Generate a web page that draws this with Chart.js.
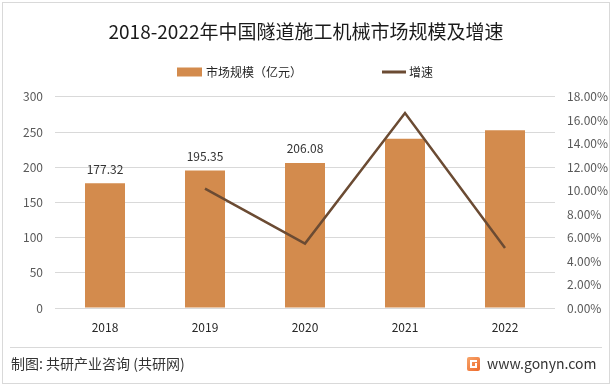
<!DOCTYPE html>
<html><head><meta charset="utf-8">
<script src="https://cdn.jsdelivr.net/npm/chart.js@4.4.0/dist/chart.umd.min.js"></script>
<style>html,body{margin:0;padding:0;background:#fff}canvas{display:block}</style>
</head><body>
<canvas id="c" width="612" height="386"></canvas>
<script>
const titleText = '2018-2022年中国隧道施工机械市场规模及增速';
const categories = ['2018', '2019', '2020', '2021', '2022'];
const marketSize = [177.32, 195.35, 206.08, 240.3, 252.6];
const growthRate = [null, 10.17, 5.49, 16.61, 5.12];
const barLabels = ['177.32', '195.35', '206.08', null, null];
const seriesNames = ['市场规模（亿元）', '增速'];
const leftAxis = {min: 0, max: 300, step: 50};
const rightAxis = {min: 0, max: 18, step: 2};
const sourceText = '制图: 共研产业咨询 (共研网)';
const siteText = 'www.gonyn.com';

const FONT = '"Noto Sans CJK SC", "Noto Sans", sans-serif';
const BAR = '#D38B4D';
const LINE = '#6B4B33';

const decor = {
  id: 'decor',
  beforeDraw(chart) {
    const ctx = chart.ctx;
    ctx.save();
    ctx.fillStyle = '#fff';
    ctx.fillRect(0, 0, chart.width, chart.height);
    ctx.strokeStyle = '#d9d9d9';
    ctx.lineWidth = 1;
    ctx.strokeRect(2.5, 2.5, chart.width - 5, chart.height - 5);
    ctx.restore();
  },
  afterDatasetsDraw(chart) {
    const ctx = chart.ctx;
    const meta = chart.getDatasetMeta(0);
    ctx.save();
    ctx.font = '12px ' + FONT;
    ctx.fillStyle = '#333';
    ctx.textAlign = 'center';
    ctx.textBaseline = 'middle';
    meta.data.forEach((bar, i) => {
      if (barLabels[i]) ctx.fillText(barLabels[i], bar.x, bar.y - 14);
    });
    ctx.restore();
  },
  afterDraw(chart) {
    const ctx = chart.ctx;
    ctx.save();
    // legend
    const ds = chart.data.datasets;
    ctx.font = '12px ' + FONT;
    ctx.textBaseline = 'middle';
    ctx.textAlign = 'left';
    const ly = 72;
    ctx.fillStyle = ds[0].backgroundColor;
    ctx.fillRect(177, ly - 4.5, 25, 9);
    ctx.fillStyle = '#262626';
    ctx.fillText(ds[0].label, 206, ly);
    ctx.strokeStyle = ds[1].borderColor;
    ctx.lineWidth = 3;
    ctx.beginPath();
    ctx.moveTo(382, ly);
    ctx.lineTo(406, ly);
    ctx.stroke();
    ctx.fillStyle = '#262626';
    ctx.fillText(ds[1].label, 409, ly);
    // footer separator
    ctx.strokeStyle = '#d9d9d9';
    ctx.lineWidth = 1;
    ctx.beginPath();
    ctx.moveTo(10, 347.5);
    ctx.lineTo(602, 347.5);
    ctx.stroke();
    // footer text
    ctx.fillStyle = '#333';
    ctx.font = '14px ' + FONT;
    ctx.fillText(sourceText, 11, 364);
    // logo
    const g = ctx.createLinearGradient(467, 357, 480, 371);
    g.addColorStop(0, '#F7A56A');
    g.addColorStop(1, '#EE6A2C');
    ctx.fillStyle = g;
    ctx.beginPath();
    ctx.roundRect(467, 357, 13, 14, 2);
    ctx.fill();
    ctx.fillStyle = '#fff';
    ctx.fillRect(470, 360, 7, 2);
    ctx.fillRect(470, 360, 2, 8);
    ctx.fillRect(470, 366, 7, 2);
    ctx.fillRect(475, 363, 2, 5);
    ctx.fillStyle = '#333';
    ctx.font = '14px ' + FONT;
    ctx.fillText(siteText, 487, 364);
    ctx.restore();
  }
};

new Chart(document.getElementById('c'), {
  data: {
    labels: categories,
    datasets: [
      {type: 'bar', label: seriesNames[0], data: marketSize, yAxisID: 'y',
       backgroundColor: BAR, barPercentage: 0.4, categoryPercentage: 1, order: 1},
      {type: 'line', label: seriesNames[1], data: growthRate, yAxisID: 'y1',
       borderColor: LINE, backgroundColor: LINE, borderWidth: 2.5, pointRadius: 0,
       tension: 0, spanGaps: false, order: 0}
    ]
  },
  options: {
    responsive: false,
    animation: false,
    layout: {padding: {left: 0, right: 0, top: 0, bottom: 0}},
    plugins: {
      legend: {display: false},
      tooltip: {enabled: false},
      title: {display: true, text: titleText, color: '#1a1a1a',
              font: {family: FONT, size: 19, weight: 'normal'},
              padding: {top: 20, bottom: 54}}
    },
    scales: {
      x: {
        grid: {display: false, drawTicks: false},
        border: {display: false},
        ticks: {color: '#262626', font: {family: FONT, size: 12}, padding: 12},
        afterFit(s) { s.height = 78; }
      },
      y: {
        position: 'left', min: leftAxis.min, max: leftAxis.max,
        grid: {color: '#d9d9d9', drawTicks: false},
        border: {display: false},
        ticks: {stepSize: leftAxis.step, color: '#595959', font: {family: FONT, size: 12}, padding: 12},
        afterFit(s) { s.width = 55; }
      },
      y1: {
        position: 'right', min: rightAxis.min, max: rightAxis.max,
        grid: {display: false, drawTicks: false},
        border: {display: false},
        ticks: {stepSize: rightAxis.step, color: '#595959', font: {family: FONT, size: 12}, padding: 12,
                callback: v => v.toFixed(2) + '%'},
        afterFit(s) { s.width = 57; }
      }
    }
  },
  plugins: [decor]
});
</script>
</body></html>
